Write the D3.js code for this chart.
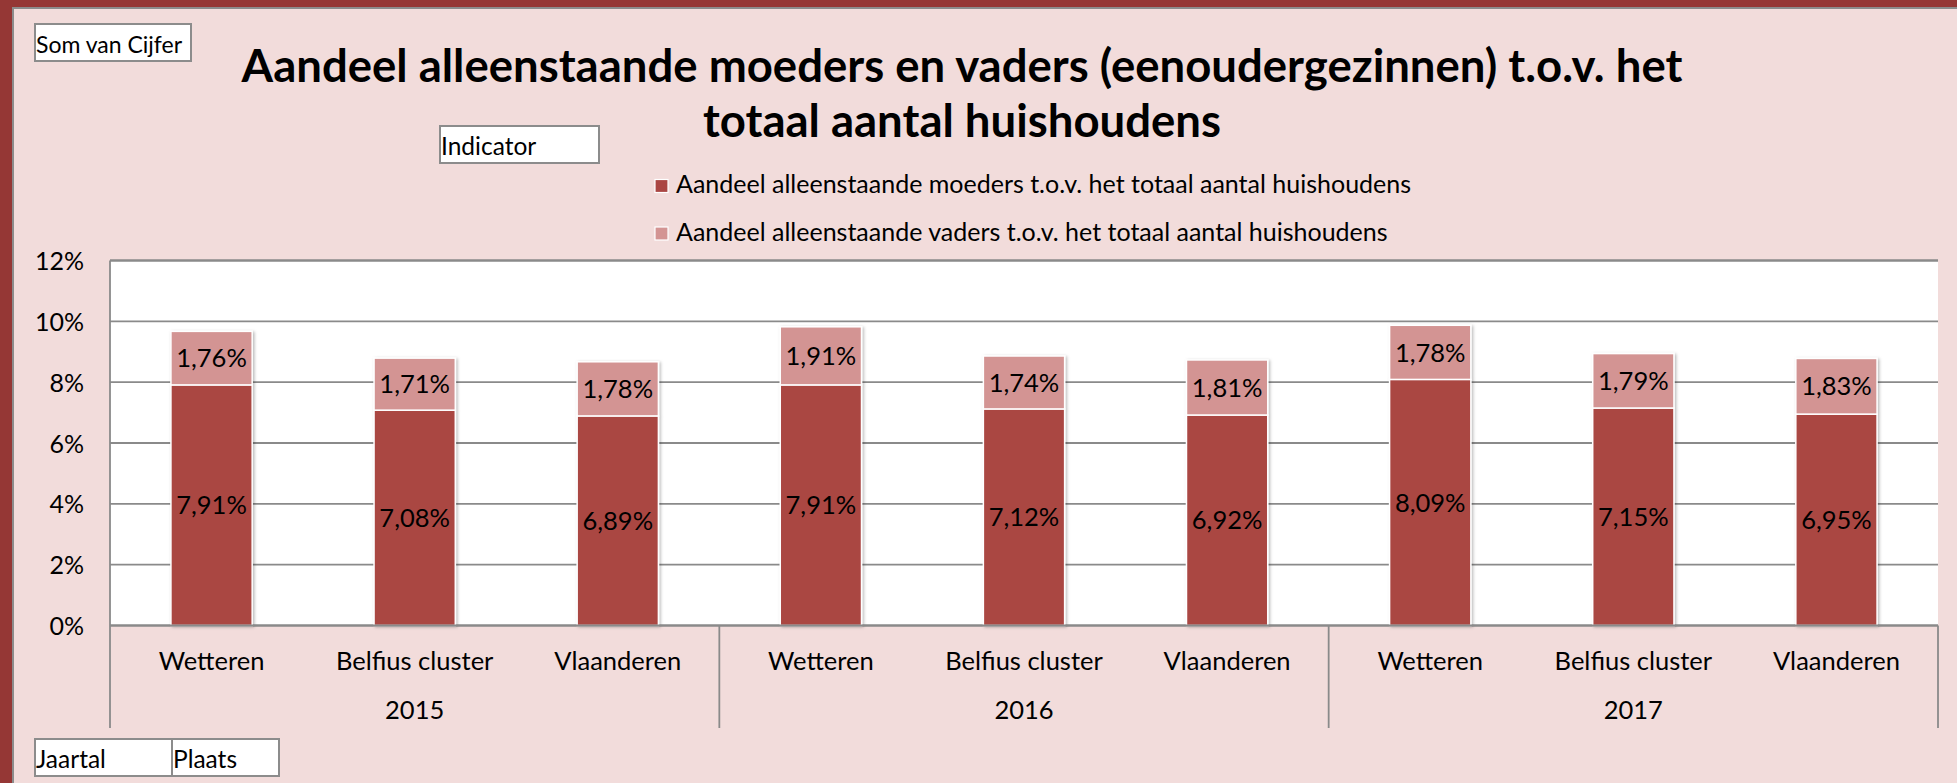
<!DOCTYPE html>
<html>
<head>
<meta charset="utf-8">
<script src="https://cdn.jsdelivr.net/npm/d3@7"></script>
<style>
  html, body { margin: 0; padding: 0; overflow: hidden; background: #953735; }
  text { font-family: "Lato", "Open Sans", sans-serif; fill: #000; }
</style>
</head>
<body>
<svg id="chart" width="1957" height="783"></svg>
<script>
// ---- data ----
const years = ["2015", "2016", "2017"];
const places = ["Wetteren", "Belfius cluster", "Vlaanderen"];
const moeders = [7.91, 7.08, 6.89, 7.91, 7.12, 6.92, 8.09, 7.15, 6.95];
const vaders  = [1.76, 1.71, 1.78, 1.91, 1.74, 1.81, 1.78, 1.79, 1.83];
const seriesNames = [
  "Aandeel alleenstaande moeders t.o.v. het totaal aantal huishoudens",
  "Aandeel alleenstaande vaders t.o.v. het totaal aantal huishoudens"
];
const yTicks = [0, 2, 4, 6, 8, 10, 12];
const titleLines = [
  "Aandeel alleenstaande moeders en vaders (eenoudergezinnen) t.o.v. het",
  "totaal aantal huishoudens"
];

// ---- layout ----
const W = 1957, H = 783;
const plot = { left: 110, right: 1938, top: 260.5, bottom: 625.5 };
const colors = ["#AA4643", "#D39493"];
const gridColor = "#8a8a8a";
const fs = 25; // body text size

const svg = d3.select("#chart");
const nl = d3.formatLocale({ decimal: ",", thousands: ".", grouping: [3], currency: ["€", ""] });
const pct = v => nl.format(".2f")(v) + "%";

// panel + frame
svg.append("rect").attr("x", 0).attr("y", 0).attr("width", W).attr("height", H).attr("fill", "#953735");
svg.append("rect").attr("x", 13).attr("y", 8).attr("width", W).attr("height", H)
  .attr("fill", "#F2DCDB").attr("stroke", "#8c8c8c").attr("stroke-width", 2);

// shadow for the bars
const defs = svg.append("defs");
const f = defs.append("filter").attr("id", "barShadow")
  .attr("x", "-20%").attr("y", "-5%").attr("width", "140%").attr("height", "110%");
f.append("feDropShadow").attr("dx", 1.5).attr("dy", 1).attr("stdDeviation", 1.6)
  .attr("flood-color", "#000").attr("flood-opacity", 0.28);

// category combos
const combos = [];
years.forEach(y => places.forEach(p => combos.push({ year: y, place: p })));
combos.forEach((c, i) => { c.m = moeders[i]; c.v = vaders[i]; c.i = i; });

const x = d3.scaleBand().domain(d3.range(combos.length))
  .range([plot.left, plot.right]).paddingInner(0.6).paddingOuter(0.3);
const y = d3.scaleLinear().domain([0, 12]).range([plot.bottom, plot.top]);

// plot area
svg.append("rect").attr("x", plot.left).attr("y", plot.top)
  .attr("width", plot.right - plot.left).attr("height", plot.bottom - plot.top)
  .attr("fill", "#fff");

// gridlines
svg.append("g").selectAll("line").data(yTicks).join("line")
  .attr("x1", plot.left).attr("x2", plot.right)
  .attr("y1", d => y(d)).attr("y2", d => y(d))
  .attr("stroke", gridColor).attr("stroke-width", 1.8);

// y axis labels
const yAxis = svg.append("g").attr("transform", `translate(${plot.left},0)`)
  .call(d3.axisLeft(y).tickValues(yTicks).tickFormat(d => d + "%").tickSize(0).tickPadding(26));
yAxis.select(".domain").remove();
yAxis.selectAll("text").attr("font-size", fs).attr("font-family", "Lato").attr("fill", "#000").attr("dy", "0.36em");

// stacked bars
const stack = d3.stack().keys(["m", "v"])(combos);
const bars = svg.append("g").attr("filter", "url(#barShadow)");
stack.forEach((layer, li) => {
  bars.append("g").selectAll("rect").data(layer).join("rect")
    .attr("x", (d, i) => x(i))
    .attr("width", x.bandwidth())
    .attr("y", d => y(d[1]))
    .attr("height", d => y(d[0]) - y(d[1]))
    .attr("fill", colors[li])
    .attr("stroke", "#fff").attr("stroke-width", 1.5);
});

// data labels
const labels = svg.append("g");
stack.forEach(layer => {
  labels.selectAll(null).data(layer).join("text")
    .attr("x", (d, i) => x(i) + x.bandwidth() / 2)
    .attr("y", d => (y(d[0]) + y(d[1])) / 2)
    .attr("dy", "0.36em")
    .attr("text-anchor", "middle")
    .attr("font-size", 25.5)
    .text(d => pct(d[1] - d[0]));
});

// x axis: lines
const axisG = svg.append("g").attr("stroke", gridColor).attr("stroke-width", 1.8);
axisG.append("line").attr("x1", plot.left).attr("x2", plot.left).attr("y1", plot.top).attr("y2", 728);
const step = x.step();
years.forEach((yr, gi) => {
  const xr = plot.left + (gi + 1) * 3 * step;
  axisG.append("line").attr("x1", xr).attr("x2", xr).attr("y1", plot.bottom).attr("y2", 728);
});
axisG.append("line").attr("x1", plot.left).attr("x2", plot.right).attr("y1", plot.bottom).attr("y2", plot.bottom);
axisG.append("line").attr("x1", plot.left).attr("x2", plot.right).attr("y1", plot.top).attr("y2", plot.top);

// x axis: place labels
svg.append("g").selectAll("text").data(combos).join("text")
  .attr("x", (d, i) => x(i) + x.bandwidth() / 2)
  .attr("y", 670)
  .attr("text-anchor", "middle")
  .attr("font-size", 25.5)
  .text(d => d.place);

// x axis: year labels
svg.append("g").selectAll("text").data(years).join("text")
  .attr("x", (d, gi) => plot.left + (gi * 3 + 1.5) * step)
  .attr("y", 719)
  .attr("text-anchor", "middle")
  .attr("font-size", 25.5)
  .text(d => d);

// title
svg.append("g").selectAll("text").data(titleLines).join("text")
  .attr("x", 962).attr("y", (d, i) => 82 + i * 55)
  .attr("text-anchor", "middle")
  .attr("font-size", 45.5).attr("font-weight", 700)
  .text(d => d);

// legend
const leg = svg.append("g");
seriesNames.forEach((name, i) => {
  const ly = 193 + i * 47.5;
  leg.append("rect").attr("x", 655).attr("y", ly - 13.5).attr("width", 13).attr("height", 13)
    .attr("fill", colors[i]).attr("stroke", "#fff").attr("stroke-width", 1.2);
  leg.append("text").attr("x", 676).attr("y", ly).attr("font-size", fs).text(name);
});

// field buttons
function fieldBox(x0, y0, w, h, label, size) {
  svg.append("rect").attr("x", x0).attr("y", y0).attr("width", w).attr("height", h)
    .attr("fill", "#fff").attr("stroke", "#8c8c8c").attr("stroke-width", 2);
  svg.append("text").attr("x", x0 + 1).attr("y", y0 + h - 8).attr("font-size", size).text(label);
}
fieldBox(35, 24, 156, 37, "Som van Cijfer", 23);
fieldBox(440, 126, 159, 37, "Indicator", 24.5);
fieldBox(35, 739, 137, 37, "Jaartal", 24.5);
fieldBox(172, 739, 107, 37, "Plaats", 24.5);
</script>
</body>
</html>
